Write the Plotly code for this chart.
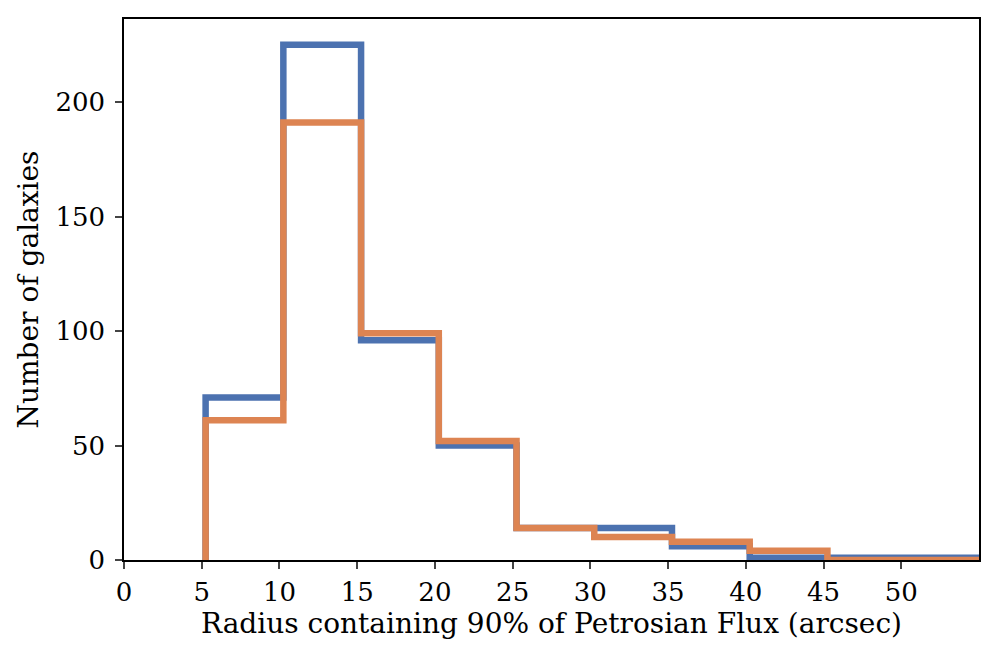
import numpy as np
import plotly.graph_objects as go

bin_edges = [5.25, 10.25, 15.25, 20.25, 25.25, 30.25, 35.25, 40.25, 45.25, 50.25, 55.25]
blue_counts = [71, 225, 96, 50, 14, 14, 6, 1, 1, 1]
orange_counts = [61, 191, 99, 52, 14, 10, 8, 4, 0, 0]
x_ticks = [0, 5, 10, 15, 20, 25, 30, 35, 40, 45, 50]
y_ticks = [0, 50, 100, 150, 200]

def step_path(edges, counts):
    xs = np.repeat(np.asarray(edges, float), 2)
    ys = np.concatenate([[0], np.repeat(np.asarray(counts, float), 2), [0]])
    return xs, ys

fig = go.Figure()
for counts, color in [(blue_counts, "#4c72b0"), (orange_counts, "#dd8452")]:
    xs, ys = step_path(bin_edges, counts)
    fig.add_trace(go.Scatter(x=xs, y=ys, mode="lines",
                             line=dict(color=color, width=6.5),
                             showlegend=False, hoverinfo="skip"))

tick_font = dict(family="DejaVu Serif", size=26, color="black")
fig.update_layout(
    width=989, height=650,
    margin=dict(l=116, r=18, t=9, b=98),
    paper_bgcolor="white", plot_bgcolor="white",
    font=dict(family="DejaVu Serif", size=23, color="black"),
)
fig.update_xaxes(range=[0, 55.0], tickvals=x_ticks, ticks="outside", ticklen=7, tickwidth=1.5,
                 showline=True, linecolor="black", linewidth=1.5, mirror=True,
                 showgrid=False, zeroline=False, ticklabelstandoff=1,
                 title=dict(text="Radius containing 90% of Petrosian Flux (arcsec)", standoff=6),
                 tickfont=tick_font)
fig.update_yaxes(range=[0, 236.25], tickvals=y_ticks, ticks="outside", ticklen=7, tickwidth=1.5,
                 showline=True, linecolor="black", linewidth=1.5, mirror=True,
                 showgrid=False, zeroline=False, ticklabelstandoff=5,
                 title=dict(text="Number of galaxies", standoff=9),
                 tickfont=tick_font)
fig.write_html("out.html")
